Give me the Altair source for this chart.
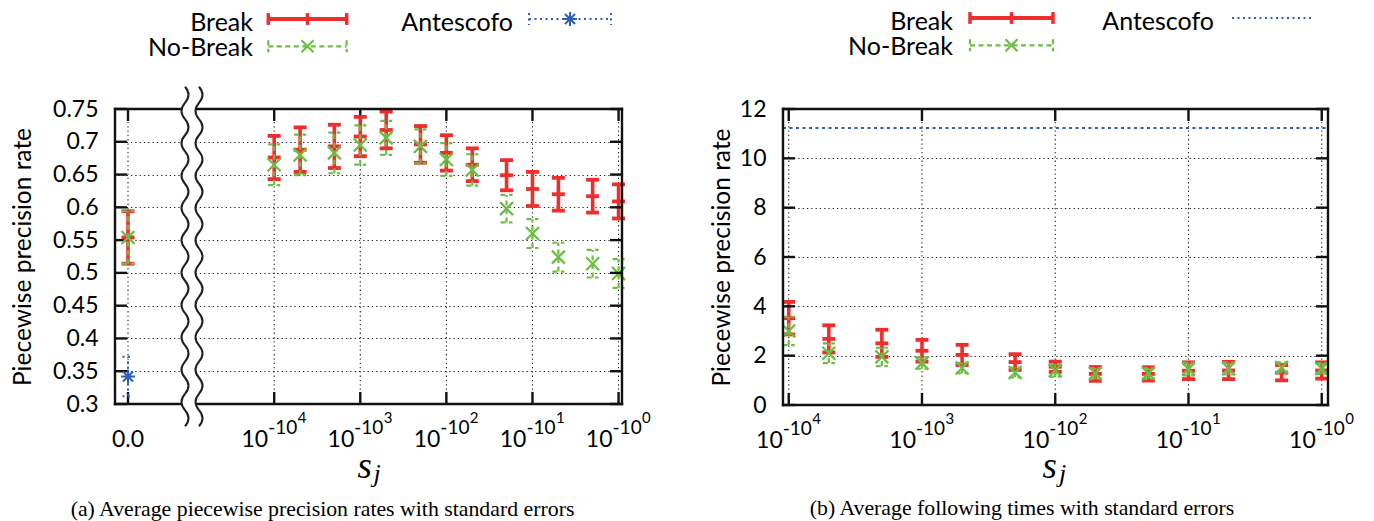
import altair as alt
import pandas as pd

# ---------------- data ----------------
# s_j = 10^(-n); the x axis is read on n
n_values = [10000, 5000, 2000, 1000, 500, 200, 100, 50, 20, 10, 5, 2, 1]
tick_n = [10000, 1000, 100, 10, 1]
tick_exp = ["4", "3", "2", "1", "0"]
zero_s = [0.0]
zero_label = ["0.0"]

# (a) average piecewise precision rates
break_prec = [0.676, 0.688, 0.693, 0.708, 0.718, 0.696, 0.683, 0.665, 0.649, 0.628, 0.620, 0.617, 0.609]
break_prec_se = [0.033, 0.034, 0.033, 0.030, 0.028, 0.028, 0.027, 0.025, 0.023, 0.026, 0.025, 0.025, 0.026]
nobreak_prec = [0.665, 0.680, 0.683, 0.695, 0.706, 0.693, 0.673, 0.657, 0.598, 0.560, 0.524, 0.514, 0.499]
nobreak_prec_se = [0.031, 0.031, 0.031, 0.030, 0.026, 0.026, 0.025, 0.024, 0.021, 0.022, 0.022, 0.021, 0.022]
break_prec_zero = [0.554]
break_prec_zero_se = [0.040]
nobreak_prec_zero = [0.554]
nobreak_prec_zero_se = [0.040]
antescofo_prec_zero = [0.342]
antescofo_prec_zero_se = [0.030]

# (b) average following times
break_time = [3.52, 2.68, 2.50, 2.20, 2.03, 1.74, 1.55, 1.26, 1.26, 1.39, 1.40, 1.31, 1.40]
break_time_se = [0.66, 0.55, 0.55, 0.44, 0.41, 0.32, 0.21, 0.28, 0.27, 0.34, 0.35, 0.31, 0.33]
nobreak_time = [3.00, 2.10, 1.95, 1.70, 1.50, 1.32, 1.40, 1.28, 1.28, 1.46, 1.48, 1.52, 1.48]
nobreak_time_se = [0.57, 0.40, 0.37, 0.23, 0.21, 0.20, 0.25, 0.22, 0.22, 0.26, 0.24, 0.21, 0.22]
antescofo_time = [11.23]

yticks_a = [0.3, 0.35, 0.4, 0.45, 0.5, 0.55, 0.6, 0.65, 0.7, 0.75]
yticks_b = [0, 2, 4, 6, 8, 10, 12]

series_names = ["Break", "No-Break", "Antescofo"]
y_title = "Piecewise precision rate"
caption_a = "(a) Average piecewise precision rates with standard errors"
caption_b = "(b) Average following times with standard errors"

# ---------------- style ----------------
FONT = "Lato"
SERIF = "Liberation Serif"
RED = "#ee2d2d"
GREEN = "#6dbd45"
BLUE = "#2d5fb4"
INK = "#111111"
GRID = dict(color="#222222", strokeWidth=1.1, strokeDash=[1.3, 3])
LEG_FS = 25
TICK_FS = 23

WA, HA = 507, 295
WB, HB = 545, 296

HBAR = "M-1,0L1,0"
XMARK = "M-1,-1L1,1M-1,1L1,-1"
STAR = "M-1,0L1,0M0,-1L0,1M-0.72,-0.72L0.72,0.72M-0.72,0.72L0.72,-0.72"

ST_BREAK = dict(color=RED, bar_w=3.6, dash=None, cap_r=6.5, cap_w=3.8, mk=HBAR, mk_r=6.5, mk_w=3.8)
ST_NOBREAK = dict(color=GREEN, bar_w=2.2, dash=[5, 3.5], cap_r=6, cap_w=2.2, mk=XMARK, mk_r=6.5, mk_w=2.3)
ST_ANTE = dict(color=BLUE, bar_w=2.0, dash=[2, 3.5], cap_r=5.5, cap_w=2.0, mk=STAR, mk_r=7, mk_w=2.0)

one = pd.DataFrame({"k": [0]})


def bars(xs, mean, se):
    return pd.DataFrame({
        "x": xs, "m": mean,
        "lo": [a - b for a, b in zip(mean, se)],
        "hi": [a + b for a, b in zip(mean, se)],
    })


def errorbar(df, xenc, yenc, st):
    dash = {"strokeDash": st["dash"]} if st["dash"] else {}
    base = alt.Chart(df)
    out = [base.mark_rule(color=st["color"], strokeWidth=st["bar_w"], **dash)
           .encode(x=xenc("x"), y=yenc("lo"), y2=alt.Y2("hi"))]
    for f in ("lo", "hi"):
        out.append(base.mark_point(shape=HBAR, size=(2 * st["cap_r"]) ** 2, filled=False,
                                   color=st["color"], strokeWidth=st["cap_w"], opacity=1, **dash)
                   .encode(x=xenc("x"), y=yenc(f)))
    out.append(base.mark_point(shape=st["mk"], size=(2 * st["mk_r"]) ** 2, filled=False,
                               color=st["color"], strokeWidth=st["mk_w"], opacity=1)
               .encode(x=xenc("x"), y=yenc("m")))
    return out


def hrule(x, x2, y, **kw):
    return alt.Chart(one).mark_rule(**kw).encode(x=alt.value(x), x2=alt.value(x2), y=alt.value(y))


def vrule(x, y, y2, **kw):
    return alt.Chart(one).mark_rule(**kw).encode(x=alt.value(x), y=alt.value(y), y2=alt.value(y2))


def label(x, y, text, **kw):
    kw.setdefault("font", FONT)
    kw.setdefault("baseline", "alphabetic")
    kw.setdefault("color", "black")
    return alt.Chart(one).mark_text(text=text, **kw).encode(x=alt.value(x), y=alt.value(y))


def point_at(x, y, shape, r, **kw):
    return alt.Chart(one).mark_point(shape=shape, size=(2 * r) ** 2, opacity=1, **kw).encode(
        x=alt.value(x), y=alt.value(y))


def frame(W, H):
    kw = dict(color=INK, strokeWidth=2.4, strokeCap="square")
    return [hrule(0, W, 0, **kw), hrule(0, W, H, **kw), vrule(0, 0, H, **kw), vrule(W, 0, H, **kw)]


def y_ticks(df, yenc, W, L=12):
    kw = dict(color=INK, strokeWidth=2.4)
    base = alt.Chart(df)
    return [base.mark_rule(**kw).encode(y=yenc("v"), x=alt.value(0), x2=alt.value(L)),
            base.mark_rule(**kw).encode(y=yenc("v"), x=alt.value(W - L), x2=alt.value(W))]


def x_ticks(df, xenc, H, L=12):
    kw = dict(color=INK, strokeWidth=2.4)
    base = alt.Chart(df)
    return [base.mark_rule(**GRID).encode(x=xenc("x")),
            base.mark_rule(**kw).encode(x=xenc("x"), y=alt.value(H - L), y2=alt.value(H)),
            base.mark_rule(**kw).encode(x=xenc("x"), y=alt.value(0), y2=alt.value(L))]


def x_labels(df, xenc, H):
    base = alt.Chart(df)
    return [
        base.mark_text(text="10", align="right", baseline="alphabetic", dx=-6, fontSize=TICK_FS,
                       font=FONT, color="black").encode(x=xenc("x"), y=alt.value(H + 42.5)),
        base.mark_text(text="-10", align="left", baseline="alphabetic", dx=-6, fontSize=19,
                       font=FONT, color="black").encode(x=xenc("x"), y=alt.value(H + 29.5)),
        base.mark_text(align="left", baseline="alphabetic", dx=23.5, fontSize=15,
                       font=FONT, color="black").encode(x=xenc("x"), y=alt.value(H + 18.5),
                                                        text="exp:N"),
    ]


def legend(t_right, sw1, sw2, y_break, y_nob, base_break, base_nob, ante_right, a1, a2, ante_full):
    mid = (sw1 + sw2) / 2
    out = [
        label(t_right, base_break, series_names[0], align="right", fontSize=LEG_FS),
        label(t_right, base_nob, series_names[1], align="right", fontSize=LEG_FS),
        label(ante_right, base_break, series_names[2], align="right", fontSize=LEG_FS),
        hrule(sw1, sw2, y_break, color=RED, strokeWidth=4),
        vrule(sw1, y_break - 5.9, y_break + 5.9, color=RED, strokeWidth=3.5),
        vrule(sw2, y_break - 5.9, y_break + 5.9, color=RED, strokeWidth=3.5),
        vrule(mid, y_break - 5.9, y_break + 5.9, color=RED, strokeWidth=3.5),
        hrule(sw1, sw2, y_nob, color=GREEN, strokeWidth=2.2, strokeDash=[5, 3.5]),
        vrule(sw1, y_nob - 6, y_nob + 6, color=GREEN, strokeWidth=2.2, strokeDash=[5, 3.5]),
        vrule(sw2, y_nob - 6, y_nob + 6, color=GREEN, strokeWidth=2.2, strokeDash=[5, 3.5]),
        point_at(mid, y_nob, XMARK, 6, filled=False, color=GREEN, strokeWidth=2.2),
        hrule(a1, a2, y_break, color=BLUE, strokeWidth=2, strokeDash=[2, 3.5]),
    ]
    if ante_full:
        out += [
            vrule(a1, y_break - 6, y_break + 6, color=BLUE, strokeWidth=2, strokeDash=[2, 3.5]),
            vrule(a2, y_break - 6, y_break + 6, color=BLUE, strokeWidth=2, strokeDash=[2, 3.5]),
            point_at((a1 + a2) / 2, y_break, STAR, 7, filled=False, color=BLUE, strokeWidth=2),
        ]
    return out


def anchor(x):
    return alt.Chart(one).mark_rule(strokeOpacity=0).encode(x=alt.value(x), y=alt.value(0),
                                                            y2=alt.value(1))


# ---------------- axis break symbol (decoration) ----------------
def break_paths(d, amp, halves):
    seg = 2.0 / halves
    ys = [-1 + i * seg for i in range(halves + 1)]
    sg = [1 if i % 2 == 0 else -1 for i in range(halves)]

    def line(x0):
        p = f"M{x0:.4f},-1"
        for i in range(halves):
            p += f"Q{x0 + sg[i] * 2 * amp:.4f},{ys[i] + seg / 2:.4f} {x0:.4f},{ys[i + 1]:.4f}"
        return p

    band = line(-d) + f"L{d:.4f},1"
    for i in reversed(range(halves)):
        band += f"Q{d + sg[i] * 2 * amp:.4f},{ys[i] + seg / 2:.4f} {d:.4f},{ys[i]:.4f}"
    band += "Z"
    return band, line(-d) + line(d)


BR_R = 169.75
band_path, lines_path = break_paths(7 / BR_R, 3.5 / BR_R, 21)


def y_axis(values, title_x, H):
    return alt.Axis(values=values, format="~g", title=y_title, grid=True, gridDash=[1.3, 3],
                    gridColor="#222222", gridWidth=1.1, ticks=False, tickSize=0, domain=False,
                    labelPadding=17, labelFontSize=TICK_FS, labelFont=FONT, labelColor="black",
                    titleFont=FONT, titleFontSize=24.5, titleFontWeight="normal",
                    titleColor="black", titleAngle=270, titleAlign="center",
                    titleBaseline="middle", titleX=title_x, titleY=H / 2)


# ---------------- panel (a) ----------------
axis_a = y_axis(yticks_a, -91.5, HA)


def xA(f):
    return alt.X(f"{f}:Q", scale=alt.Scale(type="log", domain=[10 ** -0.04, 10 ** 5.849],
                                           reverse=True, nice=False), axis=None)


def xA0(f):
    return alt.X(f"{f}:Q", scale=alt.Scale(domain=[-1, 38], nice=False, zero=False), axis=None)


def yA(f):
    return alt.Y(f"{f}:Q", scale=alt.Scale(domain=[0.3, 0.75], nice=False, zero=False), axis=axis_a)


ticks_df = pd.DataFrame({"x": tick_n, "exp": tick_exp})
zero_df = pd.DataFrame({"x": zero_s, "lab": zero_label})
ya_df = pd.DataFrame({"v": yticks_a})
yb_df = pd.DataFrame({"v": yticks_b})

a_break = bars(n_values, break_prec, break_prec_se)
a_nobreak = bars(n_values, nobreak_prec, nobreak_prec_se)
a0_break = bars(zero_s, break_prec_zero, break_prec_zero_se)
a0_nobreak = bars(zero_s, nobreak_prec_zero, nobreak_prec_zero_se)
a0_ante = bars(zero_s, antescofo_prec_zero, antescofo_prec_zero_se)

main_a = (x_ticks(ticks_df, xA, HA)
          + errorbar(a_break, xA, yA, ST_BREAK)
          + errorbar(a_nobreak, xA, yA, ST_NOBREAK)
          + frame(WA, HA)
          + y_ticks(ya_df, yA, WA)
          + x_labels(ticks_df, xA, HA)
          + [point_at(77, 147.5, band_path, BR_R, filled=True, color="white"),
             point_at(77, 147.5, lines_path, BR_R, filled=False, color="#231f20", strokeWidth=2)]
          + legend(138, 153.3, 231.7, -90, -62.7, -78, -53, 398, 414, 496, True)
          + [label(WA / 2 + 3.5, HA + 74, "s", font=SERIF, fontStyle="italic", fontSize=37,
                   align="right"),
             label(WA / 2 + 5, HA + 78, "j", font=SERIF, fontStyle="italic", fontSize=26,
                   align="left"),
             label(207.5, 407, caption_a, font=SERIF, fontSize=21.8, align="center"),
             anchor(-107), anchor(545)])

zero_a = (x_ticks(zero_df, xA0, HA)
          + [alt.Chart(zero_df).mark_text(align="center", baseline="alphabetic", fontSize=TICK_FS,
                                          font=FONT, color="black")
             .encode(x=xA0("x"), y=alt.value(HA + 42.5), text="lab:N")]
          + errorbar(a0_break, xA0, yA, ST_BREAK)
          + errorbar(a0_nobreak, xA0, yA, ST_NOBREAK)
          + errorbar(a0_ante, xA0, yA, ST_ANTE))

panel_a = alt.layer(alt.layer(*main_a), alt.layer(*zero_a)).resolve_scale(
    x="independent").properties(width=WA, height=HA)

# ---------------- panel (b) ----------------
axis_b = y_axis(yticks_b, -61, HB)


def xB(f):
    return alt.X(f"{f}:Q", scale=alt.Scale(type="log", domain=[10 ** -0.047, 10 ** 4.043],
                                           reverse=True, nice=False), axis=None)


def yB(f):
    return alt.Y(f"{f}:Q", scale=alt.Scale(domain=[0, 12], nice=False, zero=False), axis=axis_b)


b_break = bars(n_values, break_time, break_time_se)
b_nobreak = bars(n_values, nobreak_time, nobreak_time_se)
b_ante = pd.DataFrame({"m": antescofo_time})

layers_b = (x_ticks(ticks_df, xB, HB)
            + [alt.Chart(b_ante).mark_rule(color=BLUE, strokeWidth=2, strokeDash=[3, 3.5])
               .encode(y=yB("m"), x=alt.value(0), x2=alt.value(WB))]
            + errorbar(b_break, xB, yB, ST_BREAK)
            + errorbar(b_nobreak, xB, yB, ST_NOBREAK)
            + frame(WB, HB)
            + y_ticks(yb_df, yB, WB)
            + x_labels(ticks_df, xB, HB)
            + legend(170, 187, 270, -91, -63.7, -79, -54, 431, 449, 528, False)
            + [label(WB / 2 + 1.5, HB + 73, "s", font=SERIF, fontStyle="italic", fontSize=37,
                     align="right"),
               label(WB / 2 + 3.5, HB + 77, "j", font=SERIF, fontStyle="italic", fontSize=26,
                     align="left"),
               label(239, 406, caption_b, font=SERIF, fontSize=21.8, align="center"),
               anchor(-110)])

panel_b = alt.layer(*layers_b).properties(width=WB, height=HB)

chart = (alt.hconcat(panel_a, panel_b, spacing=13, padding=0)
         .configure(font=FONT)
         .configure_view(strokeWidth=0))

chart.save("out.html", embed_options={"renderer": "svg", "actions": False})
